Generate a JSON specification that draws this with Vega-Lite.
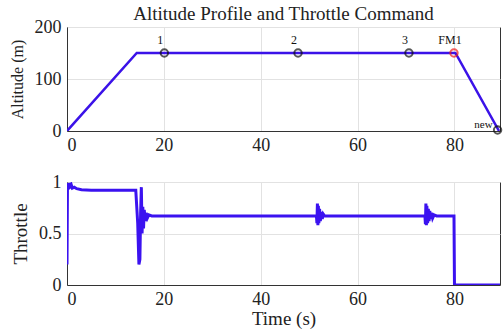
{
  "$schema": "https://vega.github.io/schema/vega-lite/v6.json",
  "padding": {"left": 8, "top": 4, "right": 0, "bottom": 0},
  "background": "white",
  "spacing": 17,
  "config": {
    "font": "Liberation Serif",
    "view": {"stroke": "#333", "strokeWidth": 1},
    "axis": {
      "labelFont": "Liberation Serif",
      "titleFont": "Liberation Serif",
      "labelColor": "#222",
      "titleColor": "#222",
      "titleFontWeight": "normal",
      "domainColor": "#333",
      "gridColor": "#e2e2e2",
      "ticks": false,
      "labelFontSize": 18
    },
    "title": {"font": "Liberation Serif", "fontWeight": "normal", "color": "#222"}
  },
  "datasets": {
    "alt": [
      {"t": 0, "alt": 0},
      {"t": 14.4, "alt": 150},
      {"t": 80.2, "alt": 150},
      {"t": 89.2, "alt": 0}
    ],
    "marks": [
      {"t": 20.1, "alt": 150, "name": "1", "kind": "waypoint"},
      {"t": 47.7, "alt": 150, "name": "2", "kind": "waypoint"},
      {"t": 70.6, "alt": 150, "name": "3", "kind": "waypoint"},
      {"t": 79.9, "alt": 150, "name": "FM1", "kind": "failure"},
      {"t": 88.9, "alt": 2, "name": "new", "kind": "new"}
    ],
    "thr": [
      {"t": 0, "u": 0.2},
      {"t": 0.1, "u": 0.99},
      {"t": 0.3, "u": 0.93},
      {"t": 0.5, "u": 0.99},
      {"t": 0.7, "u": 0.94},
      {"t": 0.9, "u": 0.97},
      {"t": 1.1, "u": 0.94},
      {"t": 1.5, "u": 0.95},
      {"t": 2, "u": 0.935},
      {"t": 3, "u": 0.925},
      {"t": 5, "u": 0.92},
      {"t": 14.2, "u": 0.92},
      {"t": 14.6, "u": 0.6},
      {"t": 14.85, "u": 0.2},
      {"t": 15.05, "u": 0.25},
      {"t": 15.2, "u": 0.7},
      {"t": 15.35, "u": 0.95},
      {"t": 15.5, "u": 0.5},
      {"t": 15.65, "u": 0.76},
      {"t": 15.8, "u": 0.55},
      {"t": 15.95, "u": 0.73},
      {"t": 16.15, "u": 0.62},
      {"t": 16.35, "u": 0.7},
      {"t": 16.6, "u": 0.65},
      {"t": 16.9, "u": 0.68},
      {"t": 17.5, "u": 0.67},
      {"t": 51.5, "u": 0.67},
      {"t": 51.6, "u": 0.6},
      {"t": 51.7, "u": 0.79},
      {"t": 51.8, "u": 0.58},
      {"t": 51.9, "u": 0.77},
      {"t": 52.0, "u": 0.6},
      {"t": 52.15, "u": 0.74},
      {"t": 52.3, "u": 0.62},
      {"t": 52.5, "u": 0.71},
      {"t": 52.7, "u": 0.64},
      {"t": 52.9, "u": 0.69},
      {"t": 53.2, "u": 0.67},
      {"t": 73.9, "u": 0.67},
      {"t": 74.0, "u": 0.59},
      {"t": 74.1, "u": 0.79},
      {"t": 74.2, "u": 0.58},
      {"t": 74.3, "u": 0.77},
      {"t": 74.45, "u": 0.6},
      {"t": 74.6, "u": 0.74},
      {"t": 74.75, "u": 0.62},
      {"t": 74.9, "u": 0.72},
      {"t": 75.1, "u": 0.64},
      {"t": 75.3, "u": 0.7},
      {"t": 75.5, "u": 0.65},
      {"t": 75.8, "u": 0.68},
      {"t": 76.3, "u": 0.67},
      {"t": 79.9, "u": 0.67},
      {"t": 80.0, "u": 0},
      {"t": 90, "u": 0}
    ]
  },
  "vconcat": [
    {
      "width": 433,
      "height": 104,
      "title": {"text": "Altitude Profile and Throttle Command", "fontSize": 19, "anchor": "middle", "offset": -6, "frame": "group"},
      "layer": [
        {
          "data": {"name": "alt"},
          "mark": {"type": "line", "color": "#3b12e8", "strokeWidth": 2.5, "clip": true},
          "encoding": {
            "x": {"field": "t", "type": "quantitative", "scale": {"domain": [0, 89.4], "nice": false},
              "axis": {"values": [0, 20, 40, 60, 80], "title": null, "labelPadding": 5, "labelFont": "Liberation Serif"}},
            "y": {"field": "alt", "type": "quantitative", "scale": {"domain": [0, 200], "nice": false},
              "axis": {"values": [0, 100, 200], "title": "Altitude (m)", "titleFontSize": 16, "titleX": -42, "labelPadding": 6, "labelFont": "Liberation Serif"}}
          }
        },
        {
          "data": {"name": "marks"},
          "mark": {"type": "point", "shape": "circle", "filled": false, "strokeWidth": 2, "size": 55},
          "encoding": {
            "x": {"field": "t", "type": "quantitative"},
            "y": {"field": "alt", "type": "quantitative"},
            "color": {"field": "kind", "type": "nominal", "legend": null,
              "scale": {"domain": ["waypoint", "failure", "new"], "range": ["#111111", "#ee1c1c", "#111111"]}}
          }
        },
        {
          "data": {"name": "marks"},
          "transform": [{"filter": "datum.kind != 'new'"}],
          "mark": {"type": "text", "dx": -4, "dy": -13, "fontSize": 12, "color": "#111", "font": "Liberation Serif"},
          "encoding": {
            "x": {"field": "t", "type": "quantitative"},
            "y": {"field": "alt", "type": "quantitative"},
            "text": {"field": "name"}
          }
        },
        {
          "data": {"name": "marks"},
          "transform": [{"filter": "datum.kind == 'new'"}],
          "mark": {"type": "text", "dx": -5, "dy": -5, "align": "right", "fontSize": 11, "color": "#111", "font": "Liberation Serif"},
          "encoding": {
            "x": {"field": "t", "type": "quantitative"},
            "y": {"field": "alt", "type": "quantitative"},
            "text": {"field": "name"}
          }
        }
      ]
    },
    {
      "width": 433,
      "height": 103,
      "data": {"name": "thr"},
      "mark": {"type": "line", "color": "#3b12f0", "strokeWidth": 3, "clip": true},
      "encoding": {
        "x": {"field": "t", "type": "quantitative", "scale": {"domain": [0, 89.4], "nice": false},
          "axis": {"values": [0, 20, 40, 60, 80], "title": "Time (s)", "titleFontSize": 19, "labelPadding": 5, "titlePadding": 1, "labelFont": "Liberation Serif"}},
        "y": {"field": "u", "type": "quantitative", "scale": {"domain": [0, 1], "nice": false},
          "axis": {"values": [0, 0.5, 1], "format": "~g", "title": "Throttle", "titleFontSize": 19, "titleX": -37, "labelPadding": 6, "labelFont": "Liberation Serif"}}
      }
    }
  ]
}
